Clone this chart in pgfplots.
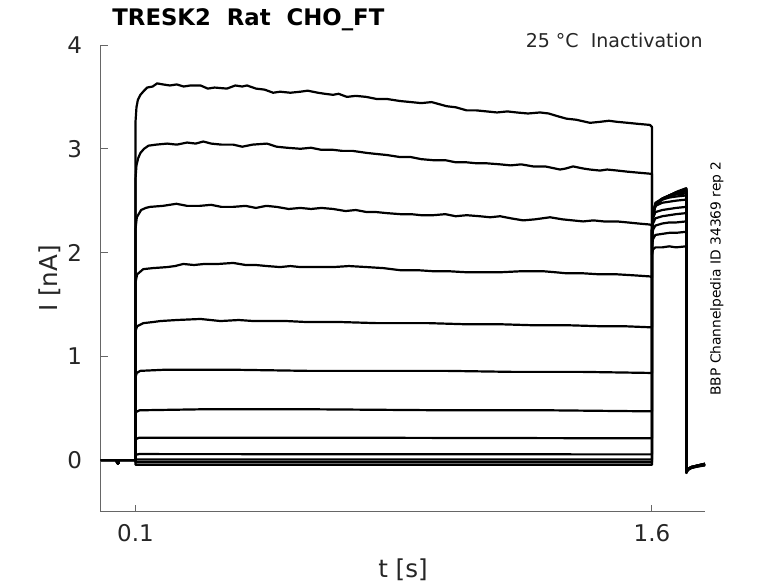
\documentclass[border=0pt]{standalone}
\usepackage{fontspec}
\setmainfont{DejaVu Sans}
\usepackage{pgfplots}
\pgfplotsset{compat=1.18}
\definecolor{axgray}{gray}{0.4}
\definecolor{txt}{gray}{0.15}
\begin{document}
\begin{tikzpicture}
\useasboundingbox (-50.5pt,-35.5pt) rectangle (338.5pt,256pt);
\begin{axis}[at={(0,0)}, anchor=south west, scale only axis,
 width=302pt, height=233.5pt,
 xmin=0, xmax=1.754, ymin=-0.5, ymax=4,
 clip=false,
 axis x line*=bottom, axis y line*=left,
 axis line style={-, axgray, line width=0.5pt},
 xtick={0.1,1.6}, xticklabels={0.1,1.6}, ytick={0,1,2,3,4},
 tick align=inside, major tick length=3.5pt,
 tick style={axgray, line width=0.5pt},
 xticklabel style={anchor=base, yshift=-15pt, inner sep=0pt},
 yticklabel style={anchor=east, xshift=-9.25pt, inner sep=0pt},
 ticklabel style={font=\fontsize{11.5}{13}\selectfont, text=txt},
 /pgf/number format/assume math mode=true,
 cycle list={{black, solid, mark=none}},
 every axis plot post/.append style={line width=1.1pt, line join=round, black, mark=none},
]
% trace 1
\addplot coordinates {(0,0)(0.046,0)(0.047,-0.03)(0.051,-0.03)(0.052,0)(0.1,0)
(0.1,3.25)(0.103,3.40)(0.107,3.47)(0.1145,3.52)(0.125,3.56)(0.134,3.59)(0.15,3.60)(0.163,3.63)(0.18,3.62)(0.2,3.61)(0.22,3.62)(0.24,3.60)(0.26,3.61)(0.289,3.61)(0.31,3.58)(0.33,3.59)(0.366,3.58)(0.39,3.61)(0.41,3.60)(0.424,3.61)(0.45,3.58)(0.475,3.57)(0.5,3.54)(0.52,3.55)(0.55,3.54)(0.579,3.55)(0.6,3.56)(0.63,3.54)(0.65,3.53)(0.674,3.52)(0.69,3.53)(0.714,3.50)(0.74,3.51)(0.77,3.50)(0.8,3.48)(0.83,3.48)(0.869,3.46)(0.9,3.45)(0.93,3.44)(0.96,3.45)(1.004,3.41)(1.03,3.40)(1.062,3.37)(1.09,3.37)(1.12,3.36)(1.15,3.35)(1.18,3.36)(1.207,3.35)(1.24,3.34)(1.275,3.35)(1.3,3.34)(1.33,3.31)(1.352,3.29)(1.38,3.28)(1.42,3.25)(1.45,3.26)(1.475,3.27)(1.498,3.26)(1.53,3.25)(1.56,3.24)(1.594,3.23)(1.6,3.21)
(1.6,1.98)(1.603,2.03)(1.61,2.05)(1.63,2.05)(1.65,2.06)(1.67,2.05)(1.699,2.06)(1.7,2.06)(1.7,-0.12)(1.704,-0.09)(1.715,-0.07)(1.735,-0.05)(1.754,-0.04)};
% trace 2
\addplot coordinates {(0,0)(0.046,0)(0.047,-0.03)(0.051,-0.03)(0.052,0)(0.1,0)
(0.1,2.70)(0.103,2.84)(0.108,2.91)(0.1145,2.96)(0.125,3.00)(0.138,3.03)(0.16,3.04)(0.192,3.05)(0.22,3.04)(0.25,3.06)(0.275,3.05)(0.297,3.07)(0.32,3.05)(0.35,3.04)(0.384,3.04)(0.41,3.02)(0.44,3.04)(0.482,3.05)(0.51,3.02)(0.54,3.01)(0.579,3.00)(0.61,3.01)(0.64,2.99)(0.674,2.99)(0.7,2.98)(0.73,2.98)(0.772,2.96)(0.8,2.95)(0.83,2.94)(0.869,2.92)(0.9,2.92)(0.93,2.90)(0.965,2.89)(1.0,2.89)(1.03,2.87)(1.06,2.87)(1.091,2.86)(1.12,2.86)(1.159,2.85)(1.19,2.84)(1.22,2.85)(1.255,2.83)(1.29,2.83)(1.333,2.80)(1.35,2.81)(1.371,2.83)(1.4,2.81)(1.42,2.80)(1.449,2.79)(1.47,2.80)(1.5,2.79)(1.527,2.78)(1.56,2.77)(1.594,2.76)(1.6,2.76)
(1.6,2.05)(1.603,2.13)(1.61,2.17)(1.63,2.18)(1.65,2.19)(1.67,2.19)(1.699,2.20)(1.7,2.20)(1.7,-0.12)(1.704,-0.09)(1.715,-0.07)(1.735,-0.055)(1.754,-0.045)};
% trace 3
\addplot coordinates {(0,0)(0.046,0)(0.047,-0.03)(0.051,-0.03)(0.052,0)(0.1,0)
(0.1,2.22)(0.104,2.34)(0.1165,2.41)(0.13,2.43)(0.142,2.44)(0.18,2.45)(0.219,2.47)(0.25,2.45)(0.287,2.45)(0.32,2.46)(0.35,2.44)(0.383,2.44)(0.42,2.45)(0.45,2.43)(0.48,2.45)(0.51,2.44)(0.545,2.42)(0.579,2.43)(0.61,2.42)(0.64,2.43)(0.674,2.42)(0.71,2.40)(0.74,2.41)(0.772,2.39)(0.8,2.39)(0.83,2.38)(0.869,2.37)(0.9,2.37)(0.93,2.36)(0.965,2.36)(1.0,2.37)(1.03,2.35)(1.062,2.36)(1.1,2.35)(1.13,2.34)(1.159,2.35)(1.19,2.33)(1.226,2.31)(1.26,2.32)(1.304,2.34)(1.34,2.32)(1.37,2.31)(1.4,2.30)(1.43,2.31)(1.46,2.30)(1.498,2.30)(1.53,2.29)(1.56,2.28)(1.594,2.27)(1.6,2.26)
(1.6,2.12)(1.603,2.22)(1.61,2.26)(1.63,2.28)(1.65,2.29)(1.67,2.29)(1.699,2.30)(1.7,2.30)(1.7,-0.11)(1.704,-0.09)(1.715,-0.07)(1.735,-0.05)(1.754,-0.04)};
% trace 4
\addplot coordinates {(0,0)(0.046,0)(0.047,-0.03)(0.051,-0.03)(0.052,0)(0.1,0)
(0.1,1.71)(0.105,1.79)(0.1226,1.84)(0.15,1.85)(0.192,1.86)(0.215,1.87)(0.239,1.89)(0.27,1.88)(0.3,1.89)(0.34,1.89)(0.384,1.90)(0.42,1.88)(0.45,1.88)(0.482,1.87)(0.52,1.86)(0.55,1.87)(0.579,1.86)(0.62,1.86)(0.674,1.86)(0.72,1.87)(0.772,1.86)(0.82,1.85)(0.869,1.83)(0.92,1.83)(0.965,1.82)(1.01,1.82)(1.062,1.81)(1.11,1.81)(1.159,1.81)(1.22,1.82)(1.284,1.82)(1.32,1.81)(1.352,1.80)(1.4,1.80)(1.449,1.79)(1.5,1.79)(1.55,1.78)(1.594,1.77)(1.6,1.76)
(1.6,2.18)(1.603,2.28)(1.61,2.33)(1.63,2.35)(1.65,2.36)(1.67,2.37)(1.699,2.38)(1.7,2.38)(1.7,-0.11)(1.704,-0.085)(1.715,-0.065)(1.735,-0.05)(1.754,-0.035)};
% trace 5
\addplot coordinates {(0,0)(0.046,0)(0.047,-0.03)(0.051,-0.03)(0.052,0)(0.1,0)
(0.1,1.24)(0.105,1.29)(0.1233,1.32)(0.15,1.33)(0.1725,1.34)(0.22,1.35)(0.289,1.36)(0.347,1.34)(0.4,1.35)(0.443,1.34)(0.5,1.34)(0.539,1.34)(0.6,1.33)(0.637,1.33)(0.7,1.33)(0.8,1.32)(0.869,1.32)(0.95,1.32)(1.05,1.31)(1.15,1.31)(1.25,1.30)(1.35,1.30)(1.45,1.29)(1.52,1.29)(1.594,1.28)(1.6,1.28)
(1.6,2.22)(1.603,2.33)(1.61,2.39)(1.63,2.41)(1.65,2.42)(1.67,2.43)(1.699,2.44)(1.7,2.44)(1.7,-0.11)(1.704,-0.085)(1.715,-0.065)(1.735,-0.05)(1.754,-0.035)};
% trace 6
\addplot coordinates {(0,0)(0.046,0)(0.047,-0.03)(0.051,-0.03)(0.052,0)(0.1,0)
(0.1,0.80)(0.104,0.84)(0.114,0.86)(0.18,0.87)(0.25,0.87)(0.4,0.87)(0.6,0.86)(0.8,0.86)(1.0,0.86)(1.2,0.85)(1.4,0.85)(1.594,0.84)(1.6,0.84)
(1.6,2.25)(1.603,2.38)(1.61,2.45)(1.63,2.48)(1.65,2.49)(1.67,2.50)(1.699,2.51)(1.7,2.51)(1.7,-0.11)(1.704,-0.085)(1.715,-0.065)(1.735,-0.05)(1.754,-0.035)};
% trace 7
\addplot coordinates {(0,0)(0.046,0)(0.047,-0.03)(0.051,-0.03)(0.052,0)(0.1,0)
(0.1,0.46)(0.112,0.48)(0.3,0.49)(0.6,0.49)(1.0,0.48)(1.3,0.48)(1.594,0.47)(1.6,0.47)
(1.6,2.20)(1.603,2.38)(1.61,2.47)(1.63,2.51)(1.65,2.53)(1.67,2.54)(1.699,2.55)(1.7,2.55)(1.7,-0.115)(1.704,-0.09)(1.715,-0.07)(1.735,-0.055)(1.754,-0.04)};
% trace 8
\addplot coordinates {(0,0)(0.046,0)(0.047,-0.03)(0.051,-0.03)(0.052,0)(0.1,0)
(0.1,0.20)(0.11,0.215)(0.8,0.215)(1.594,0.21)(1.6,0.21)
(1.6,2.20)(1.603,2.38)(1.61,2.48)(1.63,2.52)(1.65,2.54)(1.67,2.56)(1.699,2.57)(1.7,2.57)(1.7,-0.115)(1.704,-0.09)(1.715,-0.07)(1.735,-0.055)(1.754,-0.04)};
% trace 9
\addplot coordinates {(0,0)(0.046,0)(0.047,-0.03)(0.051,-0.03)(0.052,0)(0.1,0)
(0.1,0.05)(0.11,0.058)(1.6,0.055)
(1.6,2.20)(1.603,2.37)(1.61,2.47)(1.63,2.52)(1.65,2.55)(1.67,2.57)(1.699,2.59)(1.7,2.59)(1.7,-0.12)(1.704,-0.09)(1.715,-0.07)(1.735,-0.055)(1.754,-0.045)};
% trace 10
\addplot coordinates {(0,0)(0.046,0)(0.047,-0.03)(0.051,-0.03)(0.052,0)(0.1,0)
(0.1,0.005)(1.6,0.005)
(1.6,2.20)(1.603,2.36)(1.61,2.46)(1.63,2.52)(1.65,2.55)(1.67,2.58)(1.699,2.60)(1.7,2.60)(1.7,-0.12)(1.704,-0.09)(1.715,-0.07)(1.735,-0.055)(1.754,-0.045)};
% trace 11
\addplot coordinates {(0,0)(0.046,0)(0.047,-0.03)(0.051,-0.03)(0.052,0)(0.1,0)
(0.1,-0.02)(1.6,-0.02)
(1.6,2.20)(1.603,2.35)(1.61,2.45)(1.63,2.52)(1.65,2.55)(1.67,2.58)(1.699,2.61)(1.7,2.61)(1.7,-0.12)(1.704,-0.095)(1.715,-0.075)(1.735,-0.06)(1.754,-0.05)};
% trace 12
\addplot coordinates {(0,0)(0.046,0)(0.047,-0.03)(0.051,-0.03)(0.052,0)(0.1,0)
(0.1,-0.045)(1.6,-0.045)
(1.6,2.20)(1.603,2.35)(1.608,2.43)(1.615,2.47)(1.63,2.51)(1.65,2.55)(1.675,2.59)(1.699,2.62)(1.7,2.62)(1.7,-0.125)(1.704,-0.095)(1.715,-0.075)(1.735,-0.06)(1.754,-0.05)};
\node[anchor=base, font=\fontsize{12.3}{14}\selectfont, text=txt] at ([yshift=-33pt]rel axis cs:0.5,0) {t [s]};
\node[anchor=base, rotate=90, font=\fontsize{12.3}{14}\selectfont, text=txt] at ([xshift=-21.5pt]rel axis cs:0,0.5) {I [nA]};
\node[anchor=base west, inner sep=0pt, font=\fontsize{11.4}{13}\selectfont\bfseries] at ([xshift=5.5pt,yshift=10pt]rel axis cs:0,1) {TRESK2\ \ Rat\ \ CHO\_FT};
\node[anchor=base east, inner sep=0pt, font=\fontsize{9.5}{11}\selectfont, text=txt] at ([xshift=-1pt,yshift=-1pt]rel axis cs:1,1) {25 °C\ \ Inactivation};
\node[anchor=base, rotate=90, font=\fontsize{6.9}{8}\selectfont] at ([xshift=7.75pt]rel axis cs:1,0.5) {BBP Channelpedia ID 34369 rep 2};
\end{axis}
\end{tikzpicture}
\end{document}
